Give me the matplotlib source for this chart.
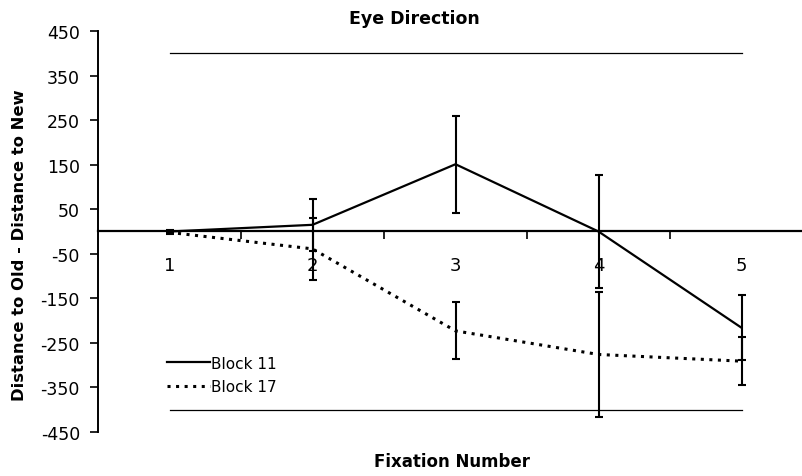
import numpy as np
import matplotlib.pyplot as plt
from matplotlib.lines import Line2D

plt.rcParams['font.family'] = ['DejaVu Sans']
plt.rcParams['axes.unicode_minus'] = False

fixation = [1, 2, 3, 4, 5]
block11 = [0, 15, 151, 0, -216]
block11_err = [4, 59, 109, 127, 73]
block17 = [-2, -39, -223, -276, -291]
block17_err = [4, 70, 64, 141, 54]
upper_bound = [400, 400, 400, 400, 400]
lower_bound = [-400, -400, -400, -400, -400]

fig = plt.figure(figsize=(8.02, 4.77), dpi=100)
ax = fig.add_axes([98 / 802, 1 - 433 / 477, 715 / 802, 401 / 477])

ax.plot(fixation, upper_bound, color='black', linewidth=0.9)
ax.plot(fixation, lower_bound, color='black', linewidth=0.9)

ax.errorbar(fixation, block11, yerr=block11_err, color='black', linewidth=1.6,
            elinewidth=1.5, capsize=2.6, capthick=1.5)
ax.errorbar(fixation, block17, yerr=block17_err, color='black', linewidth=2.2,
            linestyle=(0, (1, 1.8)), elinewidth=1.5, capsize=2.6, capthick=1.5)

ax.set_xlim(0.5, 5.5)
ax.set_ylim(-450, 450)
ax.set_yticks(np.arange(-450, 451, 100))
ax.set_xticks(fixation)
ax.set_xticks([1.5, 2.5, 3.5, 4.5], minor=True)

for s in ['top', 'right']:
    ax.spines[s].set_visible(False)
ax.spines['bottom'].set_position(('data', 0))
ax.spines['bottom'].set_linewidth(1.6)
ax.spines['left'].set_linewidth(1.4)

ax.tick_params(axis='y', direction='out', length=6, width=1.2, labelsize=12.5, pad=7)
ax.tick_params(axis='x', which='major', length=0, labelsize=13, pad=18)
ax.tick_params(axis='x', which='minor', direction='out', length=6, width=1.2)

fig.text(414 / 802, 1 - 19 / 477, 'Eye Direction', ha='center', va='center',
         fontsize=12.5, fontweight='bold')
fig.text(452 / 802, 1 - 462 / 477, 'Fixation Number', ha='center', va='center',
         fontsize=12, fontweight='bold')
fig.text(19.5 / 802, 1 - 245 / 477, 'Distance to Old - Distance to New', ha='center',
         va='center', rotation=90, fontsize=11.8, fontweight='bold')

handles = [Line2D([], [], color='black', linewidth=1.6),
           Line2D([], [], color='black', linewidth=2.2, linestyle=(0, (1, 1.8)))]
ax.legend(handles, ['Block 11', 'Block 17'], loc='center left',
          bbox_to_anchor=(69 / 715, 1 - (376 - 32) / 401), frameon=False,
          fontsize=11, handlelength=2.8, handletextpad=0.05, labelspacing=0.55,
          borderpad=0, borderaxespad=0)

fig.savefig('out.png', dpi=100)
